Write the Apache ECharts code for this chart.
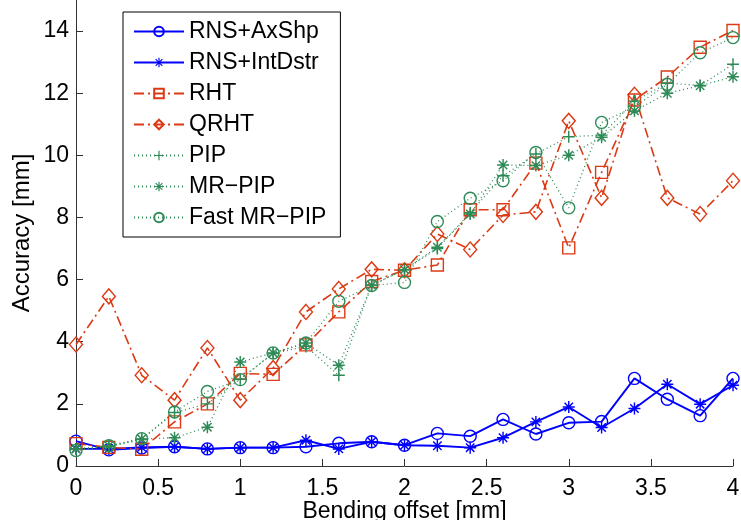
<!DOCTYPE html>
<html>
<head>
<meta charset="utf-8">
<script src="https://cdn.jsdelivr.net/npm/echarts@6/dist/echarts.min.js"></script>
<style>
html,body{margin:0;padding:0;background:#fff;}
#chart{width:741px;height:520px;}
</style>
</head>
<body>
<div id="chart"></div>
<script>
// ---- data ----
const bendingOffset = [0, 0.2, 0.4, 0.6, 0.8, 1.0, 1.2, 1.4, 1.6, 1.8, 2.0, 2.2, 2.4, 2.6, 2.8, 3.0, 3.2, 3.4, 3.6, 3.8, 4.0];
const rnsAxShp   = [0.80, 0.52, 0.58, 0.62, 0.55, 0.59, 0.59, 0.62, 0.73, 0.78, 0.67, 1.05, 0.96, 1.50, 1.03, 1.39, 1.43, 2.82, 2.15, 1.62, 2.82];
const rnsIntDstr = [0.55, 0.55, 0.60, 0.62, 0.55, 0.59, 0.59, 0.83, 0.55, 0.78, 0.67, 0.65, 0.59, 0.91, 1.42, 1.90, 1.24, 1.85, 2.63, 1.99, 2.60];
const rht        = [0.72, 0.60, 0.54, 1.42, 2.00, 2.98, 2.95, 3.90, 4.96, 5.94, 6.30, 6.47, 8.25, 8.25, 9.75, 7.02, 9.45, 11.78, 12.52, 13.48, 14.02];
const qrht       = [3.91, 5.46, 2.92, 2.12, 3.80, 2.12, 3.15, 4.96, 5.70, 6.33, 6.30, 7.47, 6.97, 8.08, 8.18, 11.11, 8.63, 11.95, 8.63, 8.11, 9.18];
const pip        = [0.55, 0.62, 0.85, 1.72, 2.00, 2.80, 3.62, 3.85, 2.92, 5.82, 6.32, 7.00, 8.15, 9.34, 10.04, 10.60, 10.65, 11.75, 12.32, 12.25, 12.93];
const mrPip      = [0.55, 0.65, 0.87, 0.91, 1.25, 3.35, 3.64, 3.96, 3.24, 5.82, 6.32, 7.04, 8.11, 9.69, 9.67, 10.00, 10.58, 11.43, 12.00, 12.24, 12.53];
const fastMrPip  = [0.50, 0.65, 0.88, 1.74, 2.40, 2.78, 3.64, 3.96, 5.30, 5.81, 5.91, 7.87, 8.62, 9.18, 10.09, 8.31, 11.06, 11.56, 12.29, 13.30, 13.79];
const seriesNames = ['RNS+AxShp', 'RNS+IntDstr', 'RHT', 'QRHT', 'PIP', 'MR\u2212PIP', 'Fast MR\u2212PIP'];
const xTicks = [0, 0.5, 1, 1.5, 2, 2.5, 3, 3.5, 4];
const yTicks = [0, 2, 4, 6, 8, 10, 12, 14];

// ---- styling ----
const BLUE = '#0000ff';
const RED = '#dc3a14';
const GREEN = '#2e8b57';
const FONT = 'Liberation Sans, Arial, Helvetica, sans-serif';
const FS = 23;

const PLUS = 'path://M-0.12,-1L0.12,-1L0.12,1L-0.12,1Z M-1,-0.12L1,-0.12L1,0.12L-1,0.12Z';
const ASTER = 'path://M-0.12,-1L0.12,-1L0.12,1L-0.12,1Z M-1,-0.12L1,-0.12L1,0.12L-1,0.12Z ' +
  'M-0.615,-0.785L0.785,0.615L0.615,0.785L-0.785,-0.615Z ' +
  'M-0.785,0.615L0.615,-0.785L0.785,-0.615L-0.615,0.785Z';

function pairs(arr) { return bendingOffset.map((x, i) => [x, arr[i]]); }

function mk(name, data, color, lineType, width, symbol, size, hollow) {
  return {
    name: name,
    type: 'line',
    data: pairs(data),
    symbol: symbol,
    symbolSize: size,
    showAllSymbol: true,
    animation: false,
    color: color,
    lineStyle: { color: color, width: width, type: lineType },
    itemStyle: hollow
      ? { color: 'rgba(255,255,255,0)', borderColor: color, borderWidth: 1.4 }
      : { color: color, borderWidth: 0 },
    emphasis: { disabled: true }
  };
}

const DASHDOT = [10, 4, 2, 4];
const DOT = [1, 3];

const series = [
  mk(seriesNames[0], rnsAxShp, BLUE, 'solid', 1.9, 'circle', 12, true),
  mk(seriesNames[1], rnsIntDstr, BLUE, 'solid', 1.9, ASTER, 12, false),
  mk(seriesNames[2], rht, RED, DASHDOT, 1.6, 'rect', 12, true),
  mk(seriesNames[3], qrht, RED, DASHDOT, 1.6, 'diamond', [13, 15], true),
  mk(seriesNames[4], pip, GREEN, DOT, 1.3, PLUS, 12, false),
  mk(seriesNames[5], mrPip, GREEN, DOT, 1.3, ASTER, 12, false),
  mk(seriesNames[6], fastMrPip, GREEN, DOT, 1.3, 'circle', 12, true)
];

const chart = echarts.init(document.getElementById('chart'), null, { renderer: 'canvas' });
chart.setOption({
  animation: false,
  backgroundColor: '#fff',
  textStyle: { fontFamily: FONT },
  grid: { left: 76, right: 8, top: 0, bottom: 54, containLabel: false, outerBoundsMode: 'none' },
  legend: {
    data: seriesNames,
    orient: 'vertical',
    left: 123,
    top: 12,
    itemWidth: 50,
    itemHeight: 12,
    itemGap: 8,
    padding: [8, 14, 8, 10],
    borderColor: '#000',
    borderWidth: 1,
    backgroundColor: '#fff',
    selectedMode: false,
    textStyle: { fontFamily: FONT, fontSize: FS, color: '#000' }
  },
  xAxis: {
    type: 'value',
    min: 0,
    max: 4,
    interval: 0.5,
    name: 'Bending offset [mm]',
    nameLocation: 'middle',
    nameGap: 34,
    nameMoveOverlap: false,
    nameTextStyle: { fontFamily: FONT, fontSize: FS, color: '#000' },
    axisLine: { show: true, lineStyle: { color: '#333', width: 1 } },
    axisTick: { show: true, inside: true, length: 7, lineStyle: { color: '#333' } },
    axisLabel: { fontFamily: FONT, fontSize: FS, color: '#000', margin: 11 },
    splitLine: { show: false }
  },
  yAxis: {
    type: 'value',
    min: 0,
    max: 15,
    name: 'Accuracy [mm]',
    nameLocation: 'middle',
    nameGap: 42,
    nameMoveOverlap: false,
    nameTextStyle: { fontFamily: FONT, fontSize: 24, color: '#000' },
    axisLine: { show: true, lineStyle: { color: '#333', width: 1 } },
    axisTick: { show: true, inside: true, length: 7, customValues: yTicks, lineStyle: { color: '#333' } },
    axisLabel: { fontFamily: FONT, fontSize: FS, color: '#000', margin: 7, customValues: yTicks },
    splitLine: { show: false }
  },
  series: series
});
</script>
</body>
</html>
